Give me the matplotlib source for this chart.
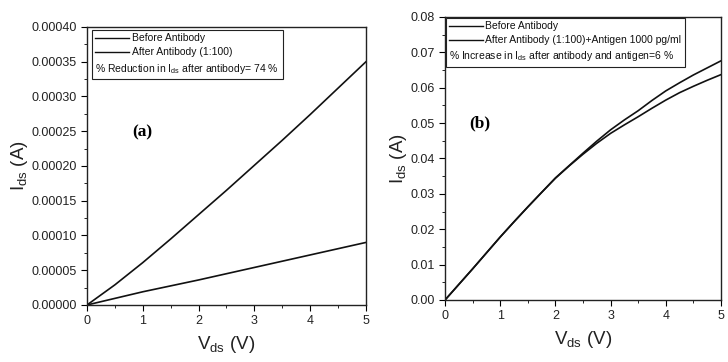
import matplotlib
matplotlib.use("Agg")
import matplotlib.pyplot as plt
from matplotlib.ticker import MultipleLocator, FormatStrFormatter
from matplotlib.offsetbox import AnchoredOffsetbox, VPacker, HPacker, TextArea, DrawingArea
from matplotlib.lines import Line2D

plt.rcParams["font.family"] = ["Liberation Sans", "DejaVu Sans"]
plt.rcParams["mathtext.default"] = "regular"

# values
vds_a = [0, 0.5, 1, 1.5, 2, 2.5, 3, 3.5, 4, 4.5, 5]
a_before = [0, 0.000029, 0.000061, 0.000095, 0.000130, 0.000165, 0.000201,
            0.000237, 0.000274, 0.000312, 0.000350]
a_after = [0, 0.0000095, 0.000019, 0.0000275, 0.000036, 0.000045, 0.000054,
           0.000063, 0.000072, 0.000081, 0.000090]

vds_b = [0, 0.25, 0.5, 0.75, 1, 1.25, 1.5, 1.75, 2, 2.25, 2.5, 2.75, 3,
         3.25, 3.5, 3.75, 4, 4.25, 4.5, 4.75, 5]
b_before = [0, 0.0044, 0.0088, 0.0133, 0.0178, 0.0221, 0.0263, 0.0304,
            0.0344, 0.0379, 0.0412, 0.0443, 0.0471, 0.0495, 0.0518, 0.0542,
            0.0565, 0.0586, 0.0604, 0.0621, 0.0637]
b_after = [0, 0.0044, 0.0088, 0.0133, 0.0178, 0.0221, 0.0263, 0.0304,
           0.0345, 0.0380, 0.0415, 0.0449, 0.0481, 0.0509, 0.0535, 0.0564,
           0.0591, 0.0614, 0.0636, 0.0656, 0.0676]

a_labels = ["Before Antibody", "After Antibody (1:100)"]
a_note = "% Reduction in I$_{ds}$ after antibody= 74 %"
b_labels = ["Before Antibody", "After Antibody (1:100)+Antigen 1000 pg/ml"]
b_note = "% Increase in I$_{ds}$ after antibody and antigen=6 %"


def legend_box(ax, labels, note, anchor):
    tp = dict(fontsize=7.5, color="#111111")
    rows = []
    for lab in labels:
        da = DrawingArea(24, 6, 0, 0)
        da.add_artist(Line2D([0, 24], [3, 3], color="#111111", lw=1))
        rows.append(HPacker(children=[da, TextArea(lab, textprops=tp)],
                            pad=0, sep=2, align="center"))
    rows.append(TextArea(note, textprops=tp))
    box = VPacker(children=rows, pad=0, sep=3, align="left")
    ab = AnchoredOffsetbox(loc="upper left", child=box, pad=0.25, borderpad=0,
                           frameon=True, bbox_to_anchor=anchor,
                           bbox_transform=ax.transAxes)
    ab.patch.set_edgecolor("#222222")
    ab.patch.set_linewidth(0.8)
    ax.add_artist(ab)


def style(ax, ymax, ystep, fmt):
    ax.set_xlim(0, 5)
    ax.set_ylim(0, ymax)
    ax.xaxis.set_major_locator(MultipleLocator(1))
    ax.xaxis.set_minor_locator(MultipleLocator(0.5))
    ax.yaxis.set_major_locator(MultipleLocator(ystep))
    ax.yaxis.set_minor_locator(MultipleLocator(ystep / 2))
    ax.yaxis.set_major_formatter(FormatStrFormatter(fmt))
    ax.tick_params(which="major", direction="out", length=4, width=0.8,
                   labelsize=9, labelcolor="#222222")
    ax.tick_params(which="minor", direction="out", length=2, width=0.6)
    for s in ax.spines.values():
        s.set_linewidth(1.0)
        s.set_color("#222222")
    ax.set_xlabel("V$_{ds}$ (V)", fontsize=13.5, color="#222222", labelpad=5)
    ax.set_ylabel("I$_{ds}$ (A)", fontsize=13.5, color="#222222", labelpad=1)


fig = plt.figure(figsize=(7.28, 3.62), dpi=100)
ax1 = fig.add_axes([0.1195, 0.1575, 0.3832, 0.768])
ax2 = fig.add_axes([0.6113, 0.1713, 0.379, 0.7818])

ax1.plot(vds_a, a_before, color="#111111", lw=1.2)
ax1.plot(vds_a, a_after, color="#111111", lw=1.2)
style(ax1, 0.0004, 0.00005, "%.5f")
ax1.text(1.0, 0.000249, "(a)", fontsize=12.5, fontweight="bold",
         family="Liberation Serif", ha="center", va="center")
legend_box(ax1, a_labels, a_note, (0.018, 0.99))

ax2.plot(vds_b, b_before, color="#111111", lw=1.2)
ax2.plot(vds_b, b_after, color="#111111", lw=1.2)
style(ax2, 0.08, 0.01, "%.2f")
ax2.text(0.63, 0.05, "(b)", fontsize=12.5, fontweight="bold",
         family="Liberation Serif", ha="center", va="center")
legend_box(ax2, b_labels, b_note, (0.003, 0.998))

fig.savefig("out.png", dpi=100)
